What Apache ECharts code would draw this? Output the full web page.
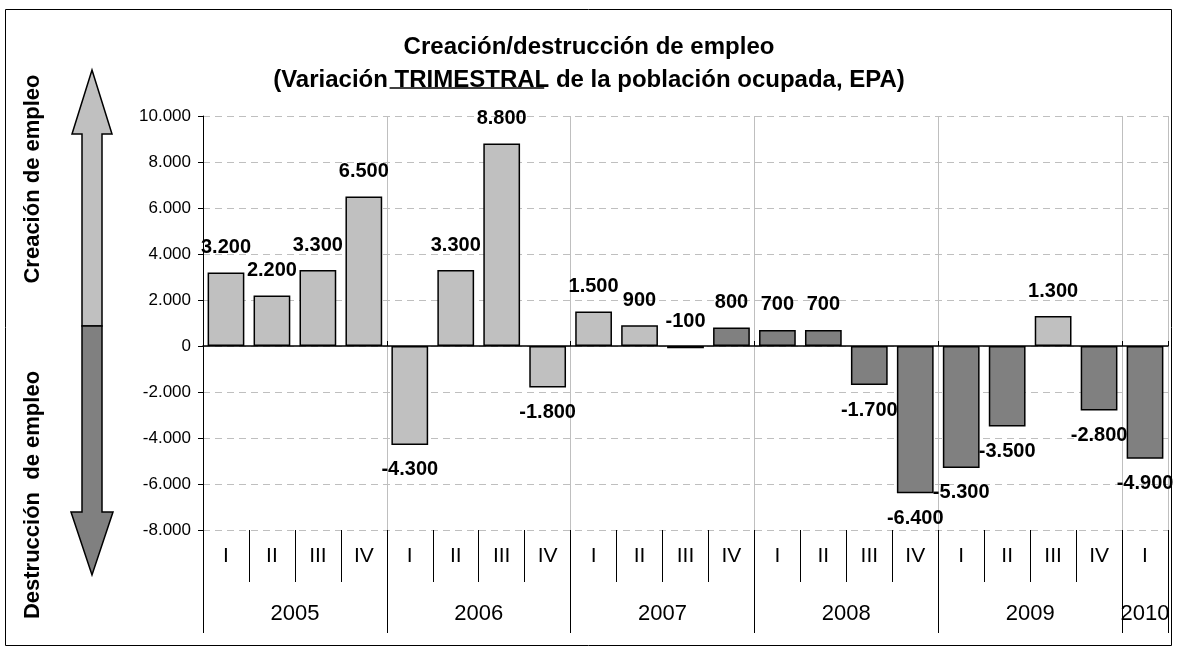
<!DOCTYPE html>
<html>
<head>
<meta charset="utf-8">
<script src="https://cdn.jsdelivr.net/npm/echarts@6/dist/echarts.min.js"></script>
<style>
  html, body { margin: 0; padding: 0; background: #fff; }
  #chart { width: 1178px; height: 652px; }
</style>
</head>
<body>
<div id="chart"></div>
<script>
// 数据
const quarters = ['I', 'II', 'III', 'IV', 'I', 'II', 'III', 'IV', 'I', 'II', 'III', 'IV',
  'I', 'II', 'III', 'IV', 'I', 'II', 'III', 'IV', 'I']
const years = ['2005', '2006', '2007', '2008', '2009', '2010']
const quartersPerYear = [4, 4, 4, 4, 4, 1]
const values = [3200, 2200, 3300, 6500, -4300, 3300, 8800, -1800, 1500, 900, -100, 800,
  700, 700, -1700, -6400, -5300, -3500, 1300, -2800, -4900]
// 深色柱子的下标
const darkBars = [10, 11, 12, 13, 14, 15, 16, 17, 19, 20]

const FONT = 'Liberation Sans, Arial, sans-serif'
const LIGHT = '#C0C0C0'
const DARK = '#808080'

// 千位分隔符 (西班牙格式)
const fmt = v => {
  const s = String(Math.abs(v)).replace(/\B(?=(\d{3})+(?!\d))/g, '.')
  return (v < 0 ? '-' : '') + s
}

// 年份刻度和标签位置
const yearTicks = [0]
const yearMids = []
let acc = 0
quartersPerYear.forEach(n => {
  yearMids.push(acc + n / 2)
  acc += n
  yearTicks.push(acc)
})

const seriesData = values.map((v, i) => ({
  value: v,
  itemStyle: { color: darkBars.includes(i) ? DARK : LIGHT },
  // -100 的标签在上面
  label: { position: v > -200 ? 'top' : 'bottom' }
}))

const chart = echarts.init(document.getElementById('chart'), null, { renderer: 'canvas' })

// 标题下划线的位置 (量一下文字宽度)
const titleSize = 24
const ctx = document.createElement('canvas').getContext('2d')
ctx.font = 'bold ' + titleSize + 'px ' + FONT
const line2 = '(Variación TRIMESTRAL de la población ocupada, EPA)'
const titleCx = 584
const line2W = ctx.measureText(line2).width
const preW = ctx.measureText('(Variación ').width
const trimW = ctx.measureText('TRIMESTRAL').width
const ulX = titleCx - line2W / 2 + preW

const option = {
  animation: false,
  title: {
    text: 'Creación/destrucción de empleo\n' + line2,
    left: titleCx,
    top: 26,
    textAlign: 'center',
    textStyle: {
      fontFamily: FONT,
      fontSize: titleSize,
      fontWeight: 'bold',
      color: '#000',
      lineHeight: 33
    }
  },
  grid: { left: 203, right: 10, top: 116, bottom: 122 },
  xAxis: [
    {
      // 季度
      type: 'category',
      data: quarters,
      position: 'bottom',
      axisLine: { show: false, onZero: false },
      axisTick: { show: true, interval: 0, length: 52, lineStyle: { color: '#000' } },
      axisLabel: { interval: 0, margin: 16, fontFamily: FONT, fontSize: 21, color: '#000' },
      splitLine: {
        show: true,
        interval: (i) => i > 0 && i % 4 === 0,
        lineStyle: { color: '#BFBFBF', width: 1 }
      }
    },
    {
      // 年份
      type: 'value',
      min: 0,
      max: 21,
      position: 'bottom',
      axisLine: { show: false, onZero: false },
      axisTick: { show: true, customValues: yearTicks, length: 103, lineStyle: { color: '#000' } },
      axisLabel: {
        customValues: yearMids,
        formatter: v => years[yearMids.indexOf(v)] || '',
        margin: 73,
        fontFamily: FONT,
        fontSize: 22,
        color: '#000'
      },
      splitLine: { show: false }
    },
    {
      // 零线上的小刻度
      type: 'category',
      data: quarters,
      axisLine: { show: true, onZero: true, lineStyle: { color: '#000', width: 1.5 } },
      axisTick: { show: true, interval: (i) => i > 0 && i % 4 === 0, length: 5, lineStyle: { color: '#000' } },
      axisLabel: { show: false },
      splitLine: { show: false }
    }
  ],
  yAxis: {
    type: 'value',
    min: -8000,
    max: 10000,
    interval: 2000,
    axisLine: { show: true, lineStyle: { color: '#000' } },
    axisTick: { show: true, length: 5, lineStyle: { color: '#000' } },
    axisLabel: { formatter: fmt, margin: 12, fontFamily: FONT, fontSize: 17, color: '#000' },
    splitLine: { show: true, lineStyle: { color: '#BFBFBF', type: [7, 5], width: 1 } }
  },
  series: [
    {
      type: 'bar',
      xAxisIndex: 0,
      data: seriesData,
      barCategoryGap: '20%',
      itemStyle: { borderColor: '#000', borderWidth: 1.5 },
      label: {
        show: true,
        distance: 15,
        formatter: p => fmt(p.value),
        fontFamily: FONT,
        fontSize: 20,
        fontWeight: 'bold',
        color: '#000'
      }
    }
  ],
  graphic: [
    // 外框
    {
      type: 'rect',
      shape: { x: 5.5, y: 9.5, width: 1166, height: 636 },
      style: { fill: null, stroke: '#000', lineWidth: 1 },
      silent: true
    },
    // 标题下划线
    {
      type: 'line',
      shape: { x1: ulX, y1: 88, x2: ulX + trimW, y2: 88 },
      style: { stroke: '#000', lineWidth: 1.5 },
      silent: true
    },
    // 上箭头 (创造)
    {
      type: 'polygon',
      shape: { points: [[92, 70], [112, 134], [102, 134], [102, 326], [82, 326], [82, 134], [72, 134]] },
      style: { fill: LIGHT, stroke: '#000', lineWidth: 1.5 },
      silent: true
    },
    // 下箭头 (破坏)
    {
      type: 'polygon',
      shape: { points: [[82, 326], [102, 326], [102, 512], [113, 512], [92, 575], [71, 512], [82, 512]] },
      style: { fill: DARK, stroke: '#000', lineWidth: 1.5 },
      silent: true
    },
    {
      type: 'text',
      x: 33,
      y: 179,
      rotation: Math.PI / 2,
      style: {
        text: 'Creación de empleo',
        font: 'bold 22px ' + FONT,
        fill: '#000',
        align: 'center',
        verticalAlign: 'middle'
      },
      silent: true
    },
    {
      type: 'text',
      x: 33,
      y: 495,
      rotation: Math.PI / 2,
      style: {
        text: 'Destrucción  de empleo',
        font: 'bold 22px ' + FONT,
        fill: '#000',
        align: 'center',
        verticalAlign: 'middle'
      },
      silent: true
    }
  ]
}

chart.setOption(option)
</script>
</body>
</html>
